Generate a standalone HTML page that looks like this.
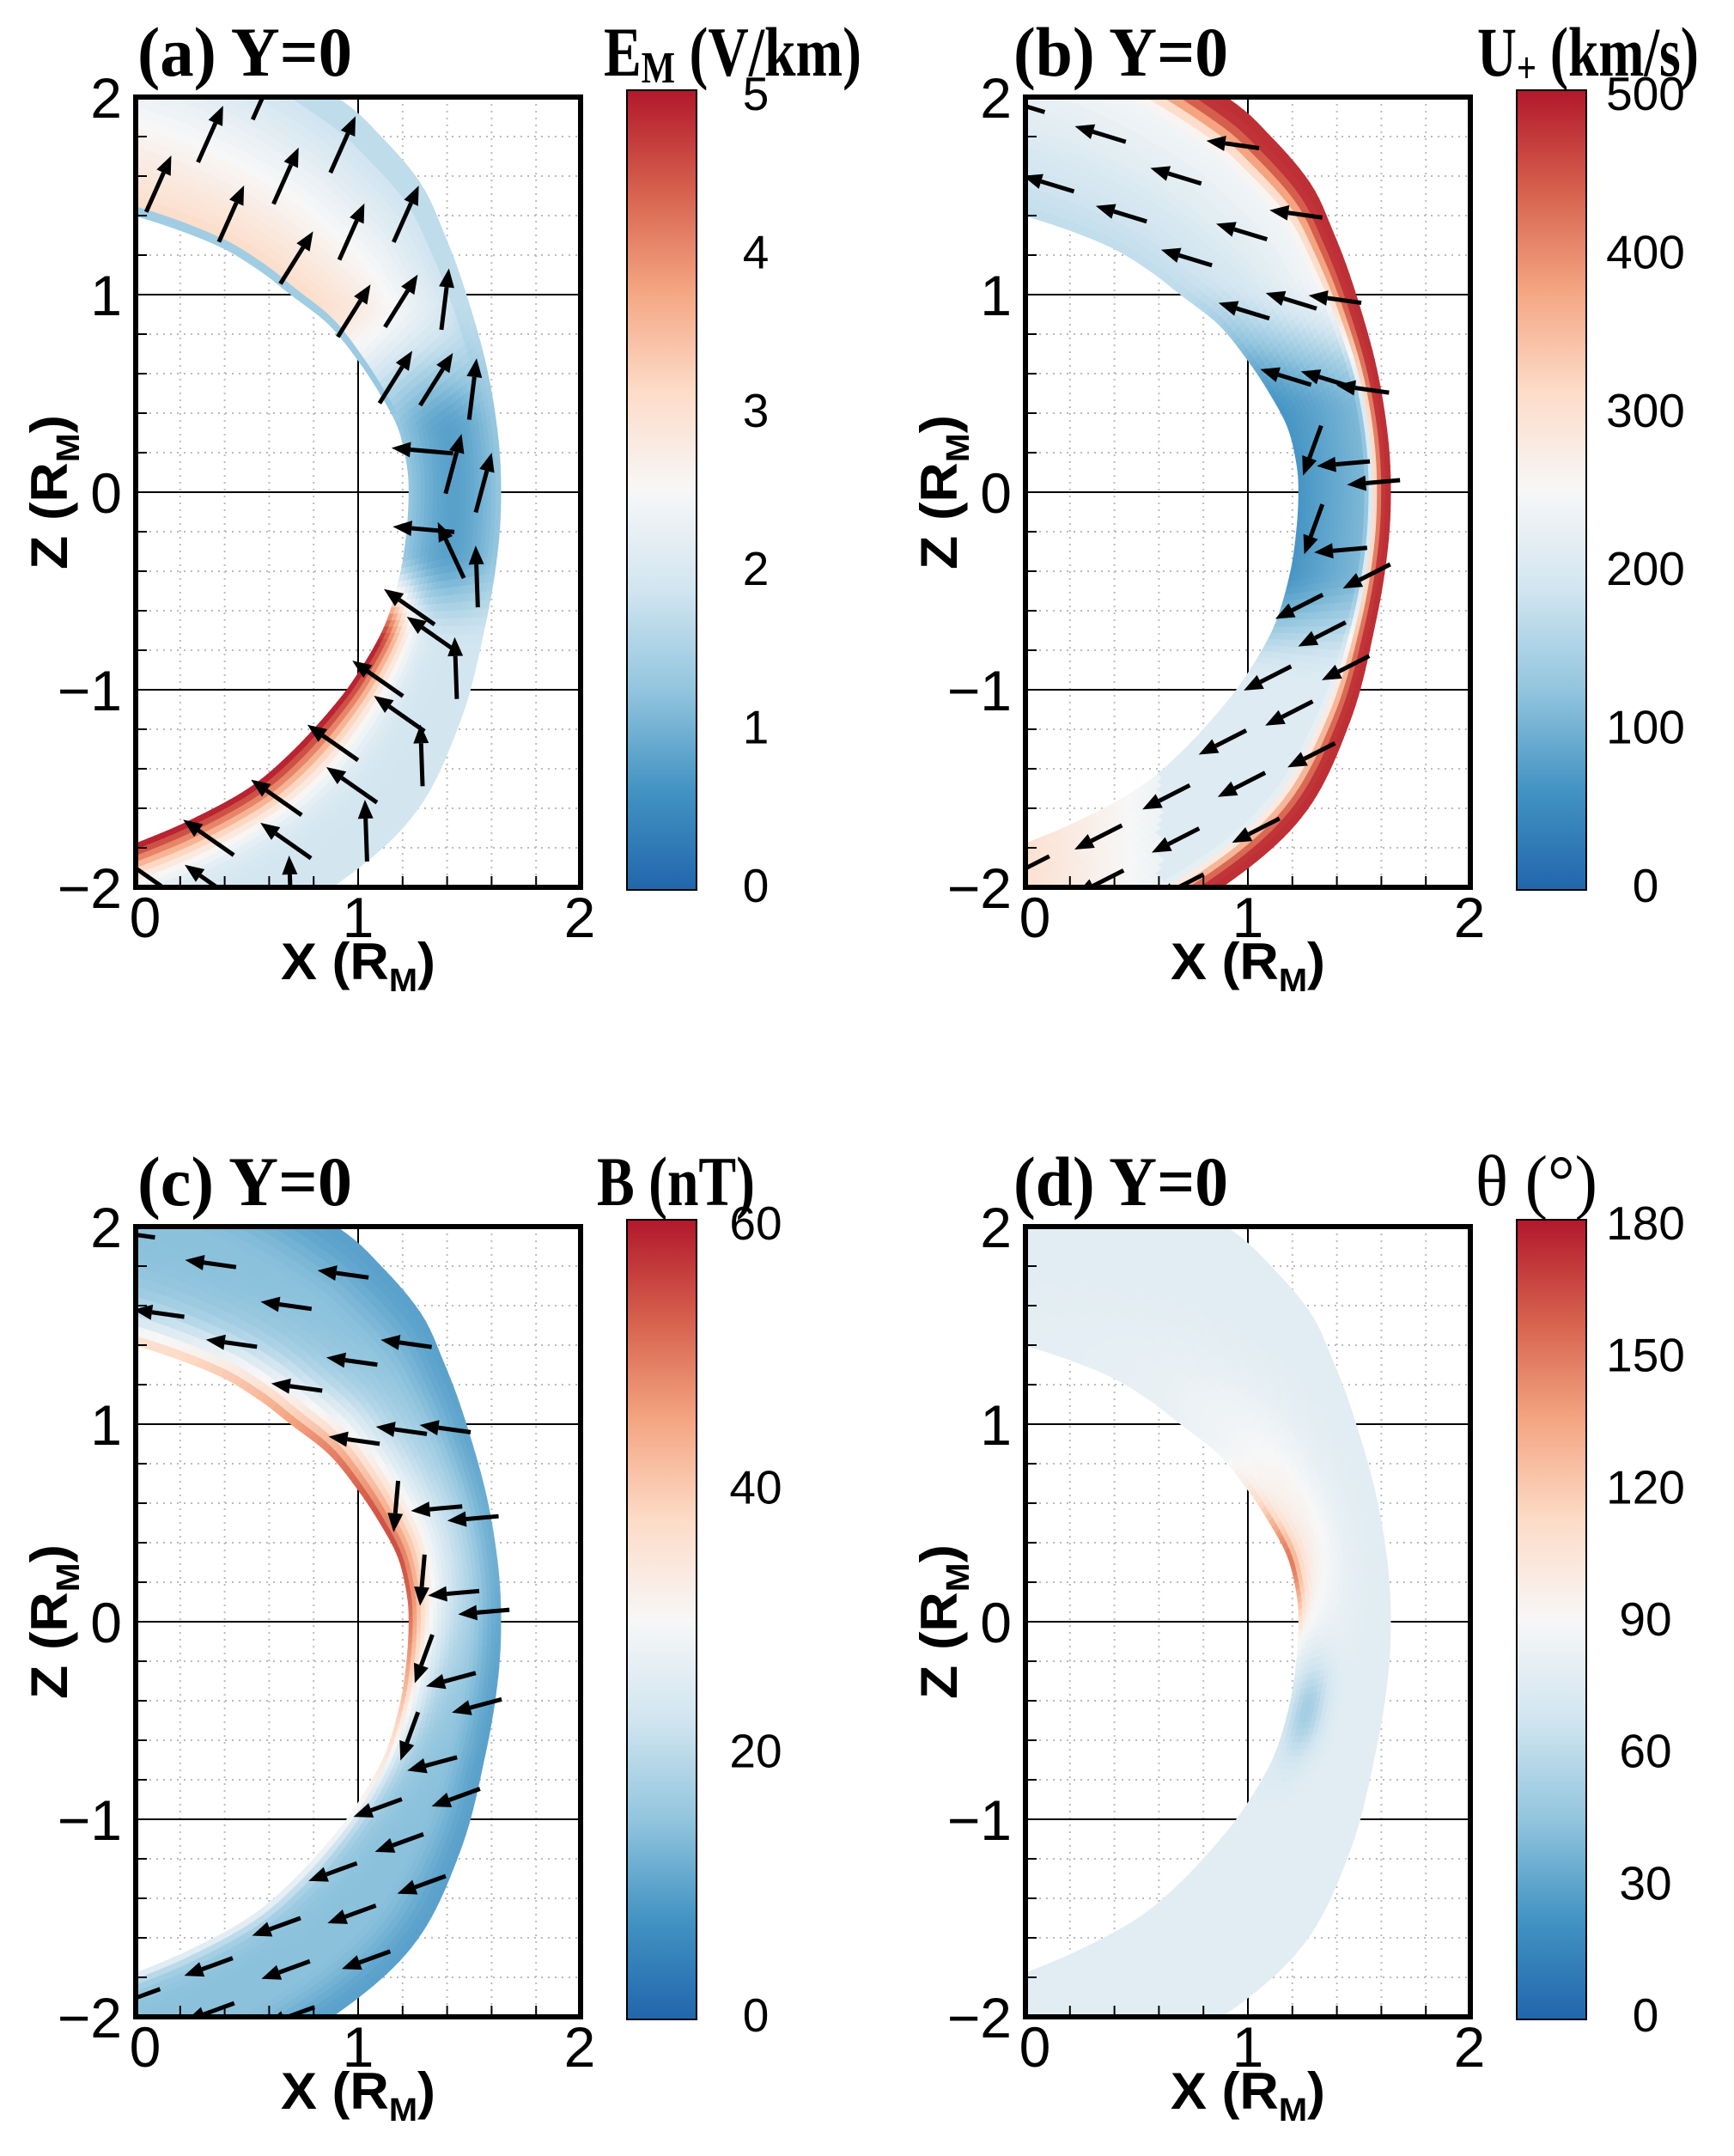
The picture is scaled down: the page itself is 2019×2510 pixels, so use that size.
<!DOCTYPE html>
<html><head><meta charset="utf-8"><style>
html,body{margin:0;padding:0;background:#fff}
svg{display:block}
.tk{font-family:"Liberation Sans",sans-serif;font-size:66px;fill:#000}
.cb{font-family:"Liberation Sans",sans-serif;font-size:55px;fill:#000}
.ttl{font-family:"Liberation Serif",serif;font-weight:bold;font-size:82px;fill:#000}
.ax{font-family:"Liberation Sans",sans-serif;font-weight:bold;font-size:60px;fill:#000}
</style></head><body>
<svg id="s" width="2019" height="2510" viewBox="0 0 2019 2510" xmlns="http://www.w3.org/2000/svg">
<defs>
<linearGradient id="rdbu" x1="0" y1="1" x2="0" y2="0">
<stop offset="0" stop-color="#2166ac"/><stop offset="0.125" stop-color="#4393c3"/><stop offset="0.25" stop-color="#92c5de"/><stop offset="0.375" stop-color="#d1e5f0"/><stop offset="0.5" stop-color="#f7f7f7"/><stop offset="0.625" stop-color="#fddbc7"/><stop offset="0.75" stop-color="#f4a582"/><stop offset="0.875" stop-color="#d6604d"/><stop offset="1" stop-color="#b2182b"/>
</linearGradient>
<clipPath id="fr"><rect x="158" y="113" width="518" height="920"/></clipPath>
</defs>
<g id="pa" transform="translate(0,0)"></g>
<g id="pb" transform="translate(1036,0)"></g>
<g id="pc" transform="translate(0,1315)"></g>
<g id="pd" transform="translate(1036,1315)"></g>
<g>
<text class="ttl" x="160" y="88" textLength="250" lengthAdjust="spacingAndGlyphs">(a) Y=0</text>
<text class="ttl" x="703" y="88" textLength="300" lengthAdjust="spacingAndGlyphs">E<tspan font-size="52" dy="8">M</tspan><tspan dy="-8"> (V/km)</tspan></text>
<text class="ttl" x="1180" y="88" textLength="250" lengthAdjust="spacingAndGlyphs">(b) Y=0</text>
<text class="ttl" x="1720" y="88" textLength="258" lengthAdjust="spacingAndGlyphs">U<tspan font-size="52" dy="8">+</tspan><tspan dy="-8"> (km/s)</tspan></text>
<text class="ttl" x="160" y="1403" textLength="250" lengthAdjust="spacingAndGlyphs">(c) Y=0</text>
<text class="ttl" x="695" y="1403" textLength="184" lengthAdjust="spacingAndGlyphs">B (nT)</text>
<text class="ttl" x="1180" y="1403" textLength="250" lengthAdjust="spacingAndGlyphs">(d) Y=0</text>
<text x="1718" y="1403" font-family="Liberation Serif,serif" font-size="84" textLength="142" lengthAdjust="spacingAndGlyphs">θ (°)</text>
</g>
</svg>
<script>
(function(){
var NS="http://www.w3.org/2000/svg";
function el(tag,attrs,parent,txt){var e=document.createElementNS(NS,tag);for(var k in attrs)e.setAttribute(k,attrs[k]);if(txt!=null)e.textContent=txt;parent.appendChild(e);return e;}
var L=158,R=676,T=113,B=1033,SX=(R-L)/2,SZ=(B-T)/4;
function X(x){return L+x*SX;} function Y(z){return T+(2-z)*SZ;}
var stops=["#2166ac","#4393c3","#92c5de","#d1e5f0","#f7f7f7","#fddbc7","#f4a582","#d6604d","#b2182b"].map(function(h){return [parseInt(h.substr(1,2),16),parseInt(h.substr(3,2),16),parseInt(h.substr(5,2),16)];});
function cmap(v){v=Math.max(0,Math.min(1,v));var t=v*8,i=Math.min(7,Math.floor(t)),f=t-i;var a=stops[i],b=stops[i+1];return "rgb("+Math.round(a[0]+(b[0]-a[0])*f)+","+Math.round(a[1]+(b[1]-a[1])*f)+","+Math.round(a[2]+(b[2]-a[2])*f)+")";}
function ss(a,b,x){var t=Math.max(0,Math.min(1,(x-a)/(b-a)));return t*t*(3-2*t);}
var inner=[[-0.4,1.5],[0,1.40],[0.35,1.26],[0.55,1.13],[0.70,1.0],[0.87,0.85],[1.0,0.67],[1.1,0.5],[1.18,0.33],[1.22,0.15],[1.23,0.0],[1.22,-0.2],[1.19,-0.42],[1.12,-0.68],[1.0,-0.92],[0.88,-1.10],[0.7,-1.32],[0.51,-1.50],[0.25,-1.66],[0,-1.78],[-0.4,-1.95]];
var outer=[[-0.2,2.6],[0.4,2.35],[0.90,2.0],[1.1,1.8],[1.28,1.56],[1.38,1.32],[1.47,1.05],[1.57,0.66],[1.625,0.3],[1.64,0],[1.625,-0.3],[1.57,-0.67],[1.46,-1.15],[1.25,-1.63],[0.88,-2.0],[0.4,-2.3],[-0.2,-2.5]];
function smooth(p){var o=[];for(var i=0;i<p.length-1;i++){var p0=p[Math.max(0,i-1)],p1=p[i],p2=p[i+1],p3=p[Math.min(p.length-1,i+2)];for(var s=0;s<10;s++){var t=s/10,t2=t*t,t3=t2*t;o.push([0.5*((2*p1[0])+(-p0[0]+p2[0])*t+(2*p0[0]-5*p1[0]+4*p2[0]-p3[0])*t2+(-p0[0]+3*p1[0]-3*p2[0]+p3[0])*t3),0.5*((2*p1[1])+(-p0[1]+p2[1])*t+(2*p0[1]-5*p1[1]+4*p2[1]-p3[1])*t2+(-p0[1]+3*p1[1]-3*p2[1]+p3[1])*t3)]);}}o.push(p[p.length-1]);return o;}
function resample(p,N){p=smooth(p);var q=p.map(function(a){return [X(a[0]),Y(a[1])];});var c=[0];for(var i=1;i<q.length;i++)c.push(c[i-1]+Math.hypot(q[i][0]-q[i-1][0],q[i][1]-q[i-1][1]));var tot=c[c.length-1],out=[],k=0;for(var n=0;n<N;n++){var d=tot*n/(N-1);while(k<q.length-2&&c[k+1]<d)k++;var f=(d-c[k])/(c[k+1]-c[k]||1);out.push([q[k][0]+(q[k+1][0]-q[k][0])*f,q[k][1]+(q[k+1][1]-q[k][1])*f]);}return out;}
var N=160,M=22;var IN=resample(inner,N),OUT=resample(outer,N);
function P(i,f){return [IN[i][0]+(OUT[i][0]-IN[i][0])*f,IN[i][1]+(OUT[i][1]-IN[i][1])*f];}
function data(p){return [(p[0]-L)/SX,2-(p[1]-T)/SZ];}
var fa=function(x,z,f){var wt=ss(0.3,1.0,z),wb=ss(-0.3,-0.8,z),wn=Math.max(0,1-wt-wb);
 var vt=0.63-0.3*f; if(f<0.05&&z>0.4&&z<1.45)vt=0.28; if(f>0.85)vt=0.34;
 var vn=0.26-0.1*Math.sin(Math.PI*f);
 var vb=0.38+0.62*Math.exp(-Math.pow(f/0.22,1.5));
 return wt*vt+wn*vn+wb*vb;};
var fb=function(x,z,f){var wt=ss(0.4,1.1,z),wb=ss(-0.4,-1.0,z),wn=Math.max(0,1-wt-wb);
 var gt=0.34+0.2*f, gn=0.13+0.12*f, gb=0.42+(x<0.6?0.13*(0.6-x)/0.6+0.05:0);
 var g=wt*gt+wn*gn+wb*gb; return g+(0.96-g)*ss(0.72,0.95,f);};
var fc=function(x,z,f){var A=Math.exp(-Math.pow((z-0.4)/1.0,2));var I=0.5+0.45*A,w=0.06+0.25*A;var base=0.24-0.08*ss(0.6,1,f);return base+(I-base)*Math.exp(-f/w);};
var fd=function(x,z,f){return 0.43+0.45*Math.exp(-Math.pow((z-0.3)/0.32,2))*Math.exp(-f/0.1)+0.08*Math.exp(-Math.pow((z-0.6)/0.6,2))*Math.exp(-Math.pow((f-0.25)/0.3,2))-0.15*Math.exp(-Math.pow((z+0.45)/0.25,2))*Math.exp(-Math.pow((f-0.2)/0.2,2));};
var angA=function(x,z,f){if(z>0.25)return 58+(z>1.3?8:0)+(f>0.7&&z<1.3?25:0);if(z>-0.35)return f<0.4?175:(z>0?75:115);return f>0.65?92:145;};
var angB=function(x,z,f){if(z>0.3)return f>0.7?172:163;if(z>-0.3)return f<0.4?250:185;return 207;};
var angC=function(x,z,f){if(z>0.7)return 172;if(z>0)return f<0.35?265:185;if(z>-0.8)return f<0.35?250:195;return 200;};
function panel(id,fn,ang,alen,ticks){
 var g=document.getElementById(id);
 var gg=el("g",{"clip-path":"url(#fr)"},g);
 for(var i=1;i<10;i++){if(i%5)el("line",{x1:X(i*0.2),y1:T,x2:X(i*0.2),y2:B,stroke:"#bbb","stroke-width":2,"stroke-dasharray":"2 6"},gg);}
 for(var i=1;i<20;i++){if(i%5)el("line",{x1:L,y1:Y(2-i*0.2),x2:R,y2:Y(2-i*0.2),stroke:"#bbb","stroke-width":2,"stroke-dasharray":"2 6"},gg);}
 el("line",{x1:X(1),y1:T,x2:X(1),y2:B,stroke:"#000","stroke-width":2},gg);
 [1,0,-1].forEach(function(z){el("line",{x1:L,y1:Y(z),x2:R,y2:Y(z),stroke:"#000","stroke-width":2},gg);});
 var bg=el("g",{"clip-path":"url(#fr)"},g);
 for(var i=0;i<N-1;i++)for(var j=0;j<M;j++){
  var f0=j/M,f1=(j+1)/M;var a=P(i,f0),b=P(i+1,f0),c=P(i+1,f1),d=P(i,f1);
  var cen=P(i,(f0+f1)/2),cen2=P(i+1,(f0+f1)/2);var dd=data([(cen[0]+cen2[0])/2,(cen[1]+cen2[1])/2]);
  var col=cmap(fn(dd[0],dd[1],(f0+f1)/2));
  el("polygon",{points:a.join(",")+" "+b.join(",")+" "+c.join(",")+" "+d.join(","),fill:col,stroke:col,"stroke-width":1.5},bg);
 }
 if(ang){var ag=el("g",{"clip-path":"url(#fr)"},g);var rows=[0.18,0.5,0.82];
  rows.forEach(function(f,r){for(var i=4+r*4;i<N-3;i+=11){var p=P(i,f);var dd=data(p);if(dd[0]<-0.05||dd[1]>2.1||dd[1]<-2.1)continue;
   var a=ang(dd[0],dd[1],f)*Math.PI/180;var ux=Math.cos(a),uy=-Math.sin(a);
   var tx=p[0]-ux*alen/2,ty=p[1]-uy*alen/2,hx=p[0]+ux*alen/2,hy=p[1]+uy*alen/2;
   var bx=hx-ux*22,by=hy-uy*22;
   el("line",{x1:tx,y1:ty,x2:bx,y2:by,stroke:"#000","stroke-width":5},ag);
   el("polygon",{points:hx+","+hy+" "+(bx-uy*9)+","+(by+ux*9)+" "+(bx+uy*9)+","+(by-ux*9),fill:"#000"},ag);
  }});}
 for(var i=1;i<20;i++){var y=Y(2-i*0.2);el("line",{x1:L,y1:y,x2:L+(i%5?13:0),y2:y,stroke:"#000","stroke-width":2},g);}
 for(var i=1;i<10;i++){var x=X(i*0.2);el("line",{x1:x,y1:B,x2:x,y2:B-(i%5?13:0),stroke:"#000","stroke-width":2},g);}
 el("rect",{x:L,y:T,width:R-L,height:B-T,fill:"none",stroke:"#000","stroke-width":6},g);
 [["2",2],["1",1],["0",0],["\u22121",-1],["\u22122",-2]].forEach(function(t){el("text",{x:142,y:Y(t[1])+24,"text-anchor":"end","class":"tk"},g,t[0]);});
 [["0",169],["1",417],["2",675]].forEach(function(t){el("text",{x:t[1],y:1091,"text-anchor":"middle","class":"tk"},g,t[0]);});
 var xl=el("text",{x:327,y:1140,"class":"ax",textLength:180,lengthAdjust:"spacingAndGlyphs"},g,"X (R");el("tspan",{"font-size":38,dy:14},xl,"M");el("tspan",{dy:-14},xl,")");
 var zl=el("text",{transform:"translate(78,573) rotate(-90)","text-anchor":"middle","class":"ax",textLength:180,lengthAdjust:"spacingAndGlyphs"},g,"Z (R");el("tspan",{"font-size":38,dy:14},zl,"M");el("tspan",{dy:-14},zl,")");
 el("rect",{x:730,y:105,width:81,height:931,fill:"url(#rdbu)",stroke:"#000","stroke-width":2},g);
 var n=ticks.length-1;ticks.forEach(function(t,k){var yc=1030-(1030-108)*k/n;el("text",{x:880,y:yc+20,"text-anchor":"middle","class":"cb"},g,t);});
}
panel("pa",fa,angA,72,["0","1","2","3","4","5"]);
panel("pb",fb,angB,62,["0","100","200","300","400","500"]);
panel("pc",fc,angC,60,["0","20","40","60"]);
panel("pd",fd,null,0,["0","30","60","90","120","150","180"]);
})();
</script>
</body></html>
